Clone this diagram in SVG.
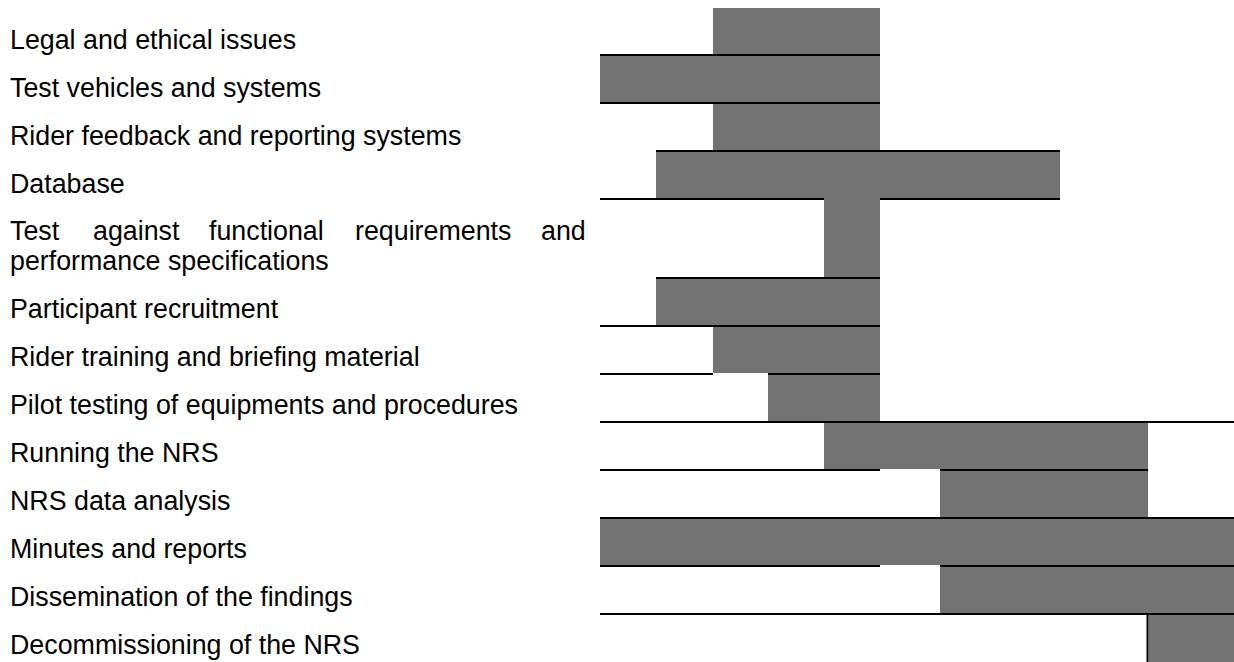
<svg xmlns="http://www.w3.org/2000/svg" width="1234" height="662" viewBox="0 0 1234 662">
<style>
text{font-family:"Liberation Sans",Arial,sans-serif;font-size:26.8px;fill:#000}
.bar{fill:#737373}
.rule{fill:#000}
</style>
<rect width="1234" height="662" fill="#fff"/>
<g id="row-legal"><rect class="bar" x="713" y="8" width="167" height="46"/><text x="10" y="49">Legal and ethical issues</text></g>
<g id="row-vehicles"><rect class="bar" x="600" y="56" width="280" height="46"/><text x="10" y="97">Test vehicles and systems</text></g>
<g id="row-feedback"><rect class="bar" x="713" y="104" width="167" height="46"/><text x="10" y="145">Rider feedback and reporting systems</text></g>
<g id="row-database"><rect class="bar" x="656" y="152" width="404" height="46"/><text x="10" y="193">Database</text></g>
<g id="row-test"><rect class="bar" x="824" y="198" width="56" height="79"/><text y="240"><tspan x="10">Test</tspan><tspan x="93">against</tspan><tspan x="209">functional</tspan><tspan x="355">requirements</tspan><tspan x="541">and</tspan></text><text x="10" y="270">performance specifications</text></g>
<g id="row-participant"><rect class="bar" x="656" y="279" width="224" height="46"/><text x="10" y="318">Participant recruitment</text></g>
<g id="row-training"><rect class="bar" x="713" y="327" width="167" height="46"/><text x="10" y="366">Rider training and briefing material</text></g>
<g id="row-pilot"><rect class="bar" x="768" y="375" width="112" height="46"/><text x="10" y="414">Pilot testing of equipments and procedures</text></g>
<g id="row-running"><rect class="bar" x="824" y="423" width="324" height="46"/><text x="10" y="462">Running the NRS</text></g>
<g id="row-analysis"><rect class="bar" x="940" y="471" width="208" height="46"/><text x="10" y="510">NRS data analysis</text></g>
<g id="row-minutes"><rect class="bar" x="600" y="519" width="634" height="46"/><text x="10" y="558">Minutes and reports</text></g>
<g id="row-dissemination"><rect class="bar" x="940" y="567" width="294" height="46"/><text x="10" y="606">Dissemination of the findings</text></g>
<g id="row-decommissioning"><rect class="bar" x="1148" y="615" width="86" height="47"/><rect class="rule" x="1146.5" y="615" width="1.7" height="47"/><text x="10" y="654">Decommissioning of the NRS</text></g>
<g id="rules">
<rect class="rule" x="600" y="54" width="280" height="2"/>
<rect class="rule" x="600" y="102" width="280" height="2"/>
<rect class="rule" x="656" y="150" width="404" height="2"/>
<rect class="rule" x="600" y="198" width="224" height="2"/>
<rect class="rule" x="880" y="198" width="180" height="2"/>
<rect class="rule" x="656" y="277" width="224" height="2"/>
<rect class="rule" x="600" y="325" width="280" height="2"/>
<rect class="rule" x="600" y="373" width="113" height="2"/>
<rect class="rule" x="768" y="373" width="112" height="2"/>
<rect class="rule" x="600" y="421" width="634" height="2"/>
<rect class="rule" x="600" y="469" width="280" height="2"/>
<rect class="rule" x="940" y="469" width="208" height="2"/>
<rect class="rule" x="600" y="517" width="634" height="2"/>
<rect class="rule" x="600" y="565" width="280" height="2"/>
<rect class="rule" x="940" y="565" width="294" height="2"/>
<rect class="rule" x="600" y="613" width="634" height="2"/>
</g>
</svg>
